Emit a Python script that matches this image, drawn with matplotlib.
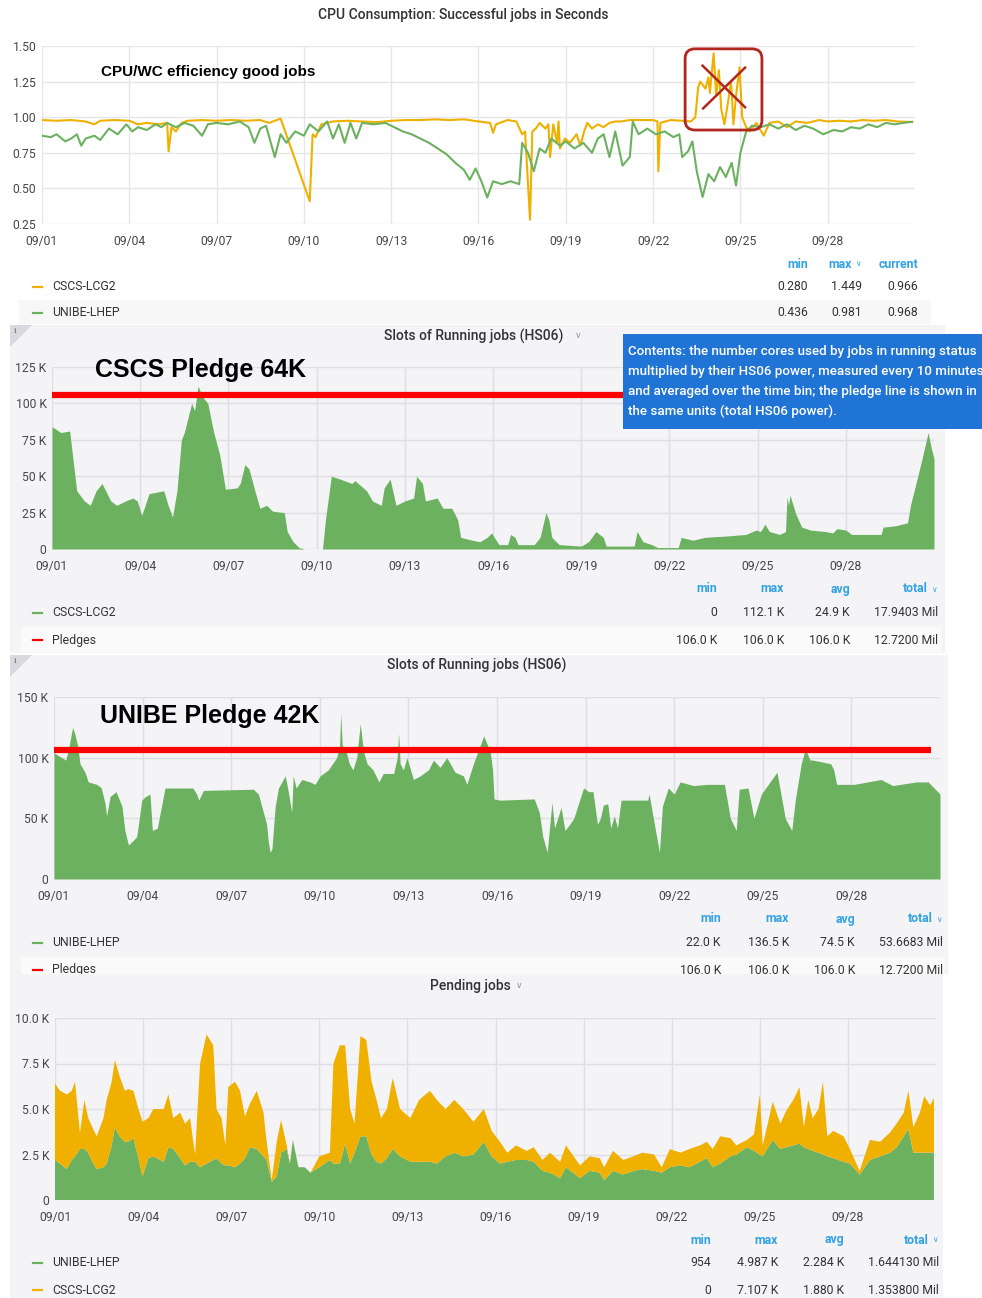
import matplotlib.pyplot as plt
import matplotlib.patches as mpatches
from matplotlib.lines import Line2D

plt.rcParams['font.family'] = ['Roboto', 'DejaVu Sans']

W, H = 982, 1298

# x axis: days after 09/01 00:00
tick_days = [0, 3, 6, 9, 12, 15, 18, 21, 24, 27]
tick_labels = ['09/01', '09/04', '09/07', '09/10', '09/13', '09/16', '09/19', '09/22', '09/25', '09/28']

# --- panel 1: CPU/WC efficiency
cscs_eff_days = [0, 0.5, 1.0, 1.5, 1.8, 2.0, 2.5, 3.0, 3.3, 3.6, 4.0, 4.3, 4.35, 4.45, 4.6, 4.8,
                 5.0, 5.5, 6.0, 6.5, 7.0, 7.5, 7.8, 8.2, 9.2, 9.3, 9.4, 9.6, 10.0, 10.5, 11.0,
                 11.5, 12.0, 12.5, 13.0, 13.5, 14.0, 14.5, 15.0, 15.4, 15.5, 15.6, 16.0, 16.3,
                 16.5, 16.6, 16.77, 16.85, 16.97, 17.1, 17.3, 17.4, 17.46, 17.57, 17.7, 17.75,
                 17.8, 17.97, 18.14, 18.37, 18.5, 18.63, 18.74, 18.9, 19.1, 19.3, 19.5, 19.7,
                 19.9, 20.2, 20.5, 21.0, 21.15, 21.18, 21.25, 21.6, 22.0, 22.3, 22.45, 22.55,
                 22.62, 22.8, 22.9, 22.95, 23.08, 23.17, 23.26, 23.34, 23.45, 23.57, 23.68,
                 23.76, 23.85, 23.97, 24.06, 24.2, 24.32, 24.55, 24.8, 25.0, 25.3, 25.6, 25.9,
                 26.3, 26.7, 27.0, 27.4, 27.8, 28.2, 28.6, 29.0, 29.4, 29.9]
cscs_eff = [0.98, 0.975, 0.98, 0.97, 0.95, 0.975, 0.98, 0.975, 0.95, 0.96, 0.95, 0.96, 0.76, 0.93,
            0.90, 0.96, 0.975, 0.98, 0.975, 0.98, 0.975, 0.98, 0.96, 0.99, 0.41, 0.88, 0.86, 0.95,
            0.97, 0.975, 0.97, 0.965, 0.975, 0.98, 0.98, 0.985, 0.98, 0.985, 0.97, 0.96, 0.89,
            0.95, 0.98, 0.97, 0.88, 0.90, 0.28, 0.90, 0.92, 0.96, 0.92, 0.95, 0.72, 0.95, 0.82,
            0.97, 0.78, 0.85, 0.82, 0.88, 0.80, 0.90, 0.96, 0.92, 0.95, 0.93, 0.96, 0.97, 0.97,
            0.98, 0.98, 0.98, 0.97, 0.62, 0.96, 0.98, 0.975, 0.97, 1.0, 1.21, 1.25, 1.20, 1.28,
            1.17, 1.449, 1.15, 1.33, 1.06, 0.95, 1.10, 1.25, 0.95, 1.15, 1.35, 1.0, 0.93, 0.90,
            0.96, 0.87, 0.96, 0.97, 0.93, 0.97, 0.96, 0.98, 0.97, 0.975, 0.97, 0.98, 0.975, 0.98,
            0.97, 0.966]

unibe_eff_days = [0, 0.3, 0.5, 0.8, 1.0, 1.2, 1.35, 1.5, 1.8, 2.0, 2.3, 2.6, 2.9, 3.1, 3.3, 3.6,
                  3.9, 4.1, 4.3, 4.6, 4.9, 5.2, 5.5, 5.7, 6.0, 6.4, 6.8, 7.1, 7.3, 7.5, 7.7, 8.0,
                  8.2, 8.4, 8.7, 9.0, 9.2, 9.5, 9.8, 10.0, 10.2, 10.4, 10.6, 10.8, 11.0, 11.4,
                  11.8, 12.1, 12.4, 12.7, 13.0, 13.3, 13.6, 13.9, 14.2, 14.5, 14.7, 14.9, 15.1,
                  15.3, 15.5, 15.8, 16.1, 16.4, 16.5, 16.7, 16.9, 17.1, 17.3, 17.5, 17.8, 18.0,
                  18.3, 18.6, 18.9, 19.1, 19.3, 19.5, 19.7, 19.95, 20.2, 20.3, 20.5, 20.8, 21.1,
                  21.4, 21.7, 21.9, 22.0, 22.2, 22.35, 22.5, 22.7, 22.9, 23.1, 23.3, 23.5, 23.7,
                  23.85, 24.0, 24.2, 24.4, 24.7, 25.0, 25.3, 25.6, 25.9, 26.2, 26.5, 26.85, 27.2,
                  27.5, 27.8, 28.1, 28.4, 28.7, 29.0, 29.3, 29.6, 29.9]
unibe_eff = [0.87, 0.86, 0.88, 0.83, 0.85, 0.88, 0.80, 0.85, 0.87, 0.84, 0.92, 0.88, 0.95, 0.90,
             0.93, 0.91, 0.95, 0.93, 0.96, 0.93, 0.96, 0.94, 0.87, 0.95, 0.96, 0.95, 0.97, 0.93,
             0.82, 0.92, 0.94, 0.72, 0.88, 0.82, 0.90, 0.87, 0.95, 0.90, 0.97, 0.85, 0.95, 0.82,
             0.96, 0.85, 0.96, 0.95, 0.96, 0.93, 0.90, 0.88, 0.85, 0.82, 0.78, 0.74, 0.68, 0.63,
             0.56, 0.64, 0.55, 0.436, 0.55, 0.53, 0.55, 0.53, 0.82, 0.75, 0.62, 0.78, 0.75, 0.85,
             0.80, 0.83, 0.78, 0.82, 0.75, 0.85, 0.88, 0.72, 0.90, 0.66, 0.72, 0.97, 0.88, 0.92,
             0.88, 0.90, 0.86, 0.88, 0.72, 0.76, 0.83, 0.62, 0.44, 0.60, 0.55, 0.65, 0.58, 0.68,
             0.52, 0.75, 0.90, 0.94, 0.93, 0.95, 0.92, 0.95, 0.91, 0.94, 0.92, 0.88, 0.91, 0.90,
             0.93, 0.92, 0.95, 0.93, 0.96, 0.95, 0.96, 0.968]

# --- panel 2: CSCS running slots (thousands HS06)
cscs_run_days = [0, 0.3, 0.6, 0.84, 1.1, 1.3, 1.5, 1.7, 2.0, 2.2, 2.5, 2.75, 2.9, 3.05, 3.3, 3.8,
                 3.95, 4.1, 4.25, 4.4, 4.5, 4.75, 4.85, 4.97, 5.1, 5.3, 5.5, 5.7, 5.9, 6.3, 6.4,
                 6.56, 6.7, 6.9, 7.07, 7.3, 7.5, 7.9, 8.0, 8.2, 8.4, 8.6, 9.2, 9.3, 9.5, 9.8,
                 10.2, 10.3, 10.7, 10.9, 11.2, 11.3, 11.5, 11.7, 12.0, 12.3, 12.4, 12.6, 12.7,
                 13.1, 13.3, 13.6, 13.8, 13.9, 14.3, 14.55, 14.8, 14.95, 15.2, 15.5, 15.6, 15.75,
                 15.85, 16.4, 16.6, 16.8, 16.9, 17.0, 17.25, 18.0, 18.25, 18.5, 18.75, 18.85,
                 19.8, 19.9, 20.1, 20.4, 20.6, 21.3, 21.4, 21.8, 22.2, 23.0, 23.6, 23.95, 24.1,
                 24.25, 24.4, 24.75, 24.95, 25.0, 25.05, 25.1, 25.3, 25.5, 25.8, 26.3, 26.55,
                 26.7, 27.0, 27.2, 28.2, 28.27, 28.7, 29.1, 29.2, 29.57, 29.8, 29.9, 30.0]
cscs_run_k = [84, 80, 81, 40, 33, 30, 40, 45, 33, 30, 33, 35, 33, 23, 38, 40, 30, 22, 40, 75, 80,
              100, 95, 112, 105, 100, 80, 65, 41, 42, 45, 58, 55, 40, 28, 30, 26, 25, 12, 5, 1, 0,
              0, 20, 50, 48, 45, 47, 40, 33, 30, 42, 48, 30, 33, 35, 50, 45, 33, 35, 28, 28, 20,
              8, 6, 5, 8, 11, 3, 3, 10, 8, 3, 3, 8, 25, 20, 8, 3, 2, 5, 12, 8, 2, 2, 12, 5, 3, 1,
              1, 8, 6, 8, 9, 10, 13, 12, 17, 12, 10, 12, 36, 30, 37, 24, 15, 13, 12, 11, 14, 13,
              10, 10, 15, 16, 18, 30, 60, 80, 70, 62]
pledge_days = [0, 29.7]
cscs_pledge_k = [106, 106]

# --- panel 3: UNIBE running slots (thousands HS06)
unibe_run_days = [0, 0.4, 0.5, 0.63, 0.7, 0.8, 0.88, 1.05, 1.16, 1.45, 1.56, 1.6, 1.73, 1.78, 1.9,
                  2.1, 2.3, 2.4, 2.52, 2.69, 2.8, 2.86, 2.97, 3.1, 3.25, 3.33, 3.5, 3.6, 3.76, 4.7,
                  4.83, 4.9, 5.06, 6.75, 6.92, 7.09, 7.2, 7.26, 7.32, 7.38, 7.49, 7.6, 7.83, 7.91,
                  8.05, 8.1, 8.2, 8.39, 8.67, 8.84, 9.01, 9.29, 9.57, 9.67, 9.71, 9.76, 9.86, 10.0,
                  10.12, 10.25, 10.37, 10.48, 10.6, 10.8, 11.0, 11.15, 11.5, 11.62, 11.67, 11.72,
                  11.83, 11.95, 12.17, 12.4, 12.68, 12.85, 13.07, 13.3, 13.58, 13.86, 13.98, 14.2,
                  14.43, 14.55, 14.77, 14.85, 14.9, 15.1, 16.26, 16.43, 16.55, 16.7, 16.86, 16.95,
                  17.17, 17.3, 17.46, 17.6, 17.93, 18.1, 18.25, 18.4, 18.5, 18.6, 18.75, 18.85,
                  18.97, 19.08, 19.2, 20.1, 20.15, 20.33, 20.5, 20.6, 20.8, 21.0, 21.2, 21.66,
                  22.1, 22.7, 22.9, 23.1, 23.2, 23.5, 23.7, 23.95, 24.48, 24.76, 24.98, 25.1, 25.3,
                  25.44, 25.6, 25.7, 26.3, 26.4, 26.5, 27.1, 28.0, 28.4, 29.2, 29.6, 29.8, 30.0]
unibe_run_k = [104, 98, 108, 125, 120, 110, 95, 88, 80, 78, 76, 75, 62, 52, 68, 72, 60, 40, 28,
               32, 35, 45, 65, 68, 70, 40, 42, 55, 75, 75, 70, 65, 73, 74, 70, 55, 45, 30, 22, 25,
               60, 75, 85, 75, 55, 85, 75, 82, 80, 78, 85, 90, 100, 110, 136.5, 110, 108, 95, 90,
               100, 128, 105, 95, 90, 80, 87, 87, 100, 120, 95, 90, 100, 82, 85, 90, 98, 92, 100,
               88, 85, 78, 95, 110, 118, 105, 90, 66, 65, 66, 55, 35, 22, 63, 42, 59, 40, 45, 50,
               75, 72, 72, 45, 50, 61, 62, 42, 52, 42, 65, 65, 70, 45, 22, 60, 75, 70, 80, 77, 78,
               78, 50, 40, 74, 75, 50, 70, 88, 50, 40, 65, 95, 107, 98, 98, 95, 90, 78, 78, 82, 77,
               80, 80, 75, 70]
unibe_pledge_k = [106, 106]

# --- panel 4: pending jobs (thousands), stacked
pend_days = [0, 0.17, 0.4, 0.57, 0.68, 0.85, 1.0, 1.13, 1.3, 1.42, 1.65, 1.76, 1.93, 2.04, 2.2,
             2.38, 2.5, 2.67, 2.84, 2.98, 3.18, 3.35, 3.7, 3.86, 4.03, 4.26, 4.43, 4.6, 4.77,
             4.94, 5.16, 5.39, 5.5, 5.67, 5.8, 5.9, 6.13, 6.3, 6.47, 6.64, 6.87, 7.1, 7.2, 7.38,
             7.55, 7.7, 7.89, 8.0, 8.1, 8.29, 8.5, 8.7, 9.0, 9.36, 9.48, 9.7, 9.88, 10.05, 10.2,
             10.4, 10.6, 10.78, 10.95, 11.1, 11.3, 11.5, 11.75, 12.1, 12.4, 12.77, 13.0, 13.3,
             13.6, 13.9, 14.25, 14.6, 14.87, 15.15, 15.4, 15.7, 16.06, 16.3, 16.6, 16.86, 17.2,
             17.4, 17.88, 18.2, 18.55, 18.7, 19.0, 19.35, 19.7, 20.0, 20.4, 20.66, 20.94, 21.3,
             21.6, 21.96, 22.2, 22.4, 22.65, 23.0, 23.2, 23.56, 23.8, 24.0, 24.1, 24.44, 24.7,
             24.9, 25.14, 25.35, 25.5, 25.65, 25.8, 26.0, 26.15, 26.3, 26.5, 26.85, 27.07, 27.4,
             27.75, 28.1, 28.43, 28.66, 28.9, 29.06, 29.23, 29.45, 29.6, 29.8, 29.93]
unibe_pend_k = [2.2, 2.0, 1.7, 2.2, 2.4, 2.8, 2.8, 2.6, 2.0, 1.7, 1.8, 2.0, 3.0, 4.0, 3.5, 3.2,
                3.2, 3.4, 2.3, 1.3, 2.3, 2.4, 2.1, 2.9, 2.8, 2.3, 1.9, 2.1, 2.1, 1.8, 2.0, 2.2,
                2.3, 2.0, 1.9, 1.9, 1.8, 2.0, 2.3, 2.9, 2.8, 2.4, 2.2, 1.0, 1.3, 2.6, 2.8, 2.0,
                3.3, 1.8, 1.8, 1.5, 1.8, 2.2, 2.0, 2.0, 3.1, 2.0, 2.6, 3.5, 3.5, 2.5, 2.1, 2.0,
                2.3, 2.8, 2.4, 2.1, 2.1, 2.1, 2.0, 2.4, 2.6, 2.4, 2.5, 3.2, 2.4, 2.0, 2.1, 2.2,
                2.2, 2.1, 1.6, 1.5, 1.2, 1.8, 1.2, 1.6, 1.5, 1.1, 1.6, 1.4, 1.6, 1.7, 1.6, 1.5,
                1.8, 1.9, 1.8, 2.1, 2.3, 1.8, 2.0, 2.4, 2.5, 2.9, 2.7, 2.5, 2.4, 3.3, 2.8, 2.9,
                3.0, 3.1, 2.9, 2.8, 2.7, 2.6, 2.5, 2.4, 2.3, 2.1, 2.0, 1.4, 2.2, 2.4, 2.6, 2.9,
                3.5, 3.9, 2.6, 2.6, 2.6, 2.6, 2.6]
cscs_pend_k = [4.2, 4.0, 4.1, 3.8, 4.1, 0.9, 2.7, 1.9, 1.9, 1.8, 2.7, 3.5, 3.5, 3.7, 3.3, 2.8,
               2.9, 2.6, 2.7, 3.0, 2.2, 2.6, 2.9, 2.9, 1.7, 2.5, 2.3, 2.4, 0.4, 5.7, 7.1, 6.3,
               2.7, 2.5, 1.1, 4.3, 4.7, 4.0, 2.3, 2.4, 3.2, 2.4, 1.1, 0.1, 1.9, 1.8, 0.2, 0.0,
               0.0, 0.0, 0.0, 0.0, 0.6, 0.4, 5.5, 6.5, 5.4, 3.0, 1.6, 5.5, 5.3, 4.0, 3.4, 2.5,
               2.7, 3.9, 2.6, 2.4, 3.4, 3.9, 3.5, 2.6, 2.9, 2.6, 1.8, 1.8, 1.4, 1.2, 0.5, 0.8,
               0.5, 0.8, 0.6, 1.1, 0.9, 1.2, 0.7, 0.8, 0.8, 0.7, 1.1, 0.8, 0.8, 0.9, 0.9, 0.3,
               1.0, 0.7, 1.0, 0.9, 0.9, 1.0, 1.5, 1.0, 0.5, 0.4, 0.9, 3.3, 0.6, 2.1, 1.4, 2.0,
               2.5, 3.1, 1.1, 2.7, 1.8, 2.4, 4.0, 1.1, 1.5, 1.4, 0.8, 0.2, 1.1, 0.8, 1.1, 1.3,
               1.3, 2.1, 1.4, 2.2, 3.1, 2.6, 3.0]

ORANGE = '#f0b000'
GREEN = '#6cb15f'
RED = '#ff0000'
BLUE = '#33a2e5'
PANEL = '#f4f4f7'


def fx(x):
    return x / W


def fy(y):
    return 1 - y / H


def rect(x0, y0, x1, y1, color, z):
    fig.add_artist(mpatches.Rectangle((fx(x0), fy(y1)), (x1 - x0) / W, (y1 - y0) / H,
                                      transform=fig.transFigure, color=color, lw=0, zorder=z))


def add_ax(left, top, right, bottom):
    return fig.add_axes([fx(left), fy(bottom), (right - left) / W, (bottom - top) / H])


def style(ax, ylim, yticks, ylabels, gridc):
    ax.set_facecolor('none')
    ax.set_xlim(0, 30)
    ax.set_ylim(*ylim)
    ax.set_xticks(tick_days, tick_labels)
    ax.set_yticks(yticks, ylabels)
    ax.grid(True, color=gridc, lw=1)
    ax.set_axisbelow(True)
    for s in ax.spines.values():
        s.set_visible(False)
    ax.tick_params(length=0, labelsize=8.7, labelcolor='#464646')
    ax.tick_params(axis='x', pad=8)
    ax.tick_params(axis='y', pad=4)


def info_corner(x, y):
    fig.add_artist(mpatches.Polygon([(fx(x), fy(y)), (fx(x + 22), fy(y)), (fx(x), fy(y + 22))],
                                    closed=True, transform=fig.transFigure, color='#d8d9df',
                                    lw=0, zorder=-6))
    fig.text(fx(x + 4), fy(y + 6), 'i', fontsize=6, color='#666', family='DejaVu Serif',
             va='center', zorder=-5)


def title(x, y, s, chevron=False):
    t = fig.text(fx(x), fy(y), s, ha='center', va='center', fontsize=10, color='#333',
                 weight='medium')
    if chevron:
        fig.text(fx(x) + len(s) * 0.00355 + 0.007, fy(y), '\u2228', ha='center', va='center',
                 fontsize=6.5, color='#999', family='DejaVu Sans')
    return t


def legend(yh, cols, heads, chev, rows, band, bandc, z=-5):
    rect(band[0], band[1], band[2], band[3], bandc, -8)
    for c, h in zip(cols, heads):
        off = 10 if h in chev else 0
        fig.text(fx(c - off), fy(yh), h, ha='right', va='center', fontsize=8.8, color=BLUE,
                 weight='bold', zorder=z)
        if off:
            fig.text(fx(c - 1), fy(yh), '\u2228', ha='right', va='center', fontsize=5.5,
                     color=BLUE, family='DejaVu Sans', zorder=z)
    for ry, color, name, vals in rows:
        fig.add_artist(Line2D([fx(33), fx(42)], [fy(ry), fy(ry)], color=color, lw=1.6,
                              transform=fig.transFigure, zorder=z))
        fig.text(fx(52), fy(ry), name, ha='left', va='center', fontsize=8.8, color='#333',
                 zorder=z)
        for c, v in zip(cols, vals):
            fig.text(fx(c), fy(ry), v, ha='right', va='center', fontsize=8.8, color='#333',
                     zorder=z)


fig = plt.figure(figsize=(W / 100, H / 100), dpi=100)
fig.patch.set_facecolor('white')

# ---------------- panel 1
ax1 = add_ax(42, 46, 915, 224)
ax1.plot(cscs_eff_days, cscs_eff, color=ORANGE, lw=1.5)
ax1.plot(unibe_eff_days, unibe_eff, color=GREEN, lw=1.5)
style(ax1, (0.25, 1.5), [0.25, 0.5, 0.75, 1.0, 1.25, 1.5],
      ['0.25', '0.50', '0.75', '1.00', '1.25', '1.50'], '#e6e6e6')
box = mpatches.FancyBboxPatch((22.1, 0.91), 2.64, 0.57,
                              boxstyle='round,pad=0,rounding_size=0.34', mutation_aspect=0.2,
                              fc='none', ec='#b3261e', lw=2, clip_on=False, zorder=5)
ax1.add_patch(box)
ax1.plot([22.70, 24.16], [1.362, 1.07], color='#b3261e', lw=1.8, zorder=5)
ax1.plot([24.16, 22.72], [1.348, 1.062], color='#b3261e', lw=1.8, zorder=5)
title(463, 15, 'CPU Consumption: Successful jobs in Seconds')
fig.text(fx(101), fy(72), 'CPU/WC efficiency good jobs', fontsize=11, weight='bold',
         family='Liberation Sans', va='center', color='black')
legend(264, [808, 862, 918], ['min', 'max', 'current'], ['max'],
       [(287, ORANGE, 'CSCS-LCG2', ['0.280', '1.449', '0.966']),
        (313, GREEN, 'UNIBE-LHEP', ['0.436', '0.981', '0.968'])],
       (19, 300, 931, 324), '#f7f7f7')

# ---------------- panel 2
rect(10, 325, 945, 653, PANEL, -10)
info_corner(10, 325)
ax2 = add_ax(52, 367, 934, 549)
ax2.fill_between(cscs_run_days, cscs_run_k, color=GREEN, lw=0)
ax2.plot(pledge_days, cscs_pledge_k, color=RED, lw=4.5, solid_capstyle='butt')
style(ax2, (0, 125), [0, 25, 50, 75, 100, 125],
      ['0', '25 K', '50 K', '75 K', '100 K', '125 K'], '#dedee4')
title(474, 336, 'Slots of Running jobs (HS06)', chevron=True)
fig.text(fx(95), fy(370), 'CSCS Pledge 64K', fontsize=18, weight='bold',
         family='Liberation Sans', va='center', color='black')
rect(623, 334, 982, 429, '#1f74d6', 2)
box_lines = ['Contents: the number cores used by jobs in running status',
             'multiplied by their HS06 power, measured every 10 minutes',
             'and averaged over the time bin; the pledge line is shown in',
             'the same units (total HS06 power).']
for i, s in enumerate(box_lines):
    fig.text(fx(628), fy(352 + i * 19.7), s, fontsize=9.6, color='white', weight='medium',
             va='center', zorder=3)
legend(589, [717, 784, 850, 938], ['min', 'max', 'avg', 'total'], ['total'],
       [(613, GREEN, 'CSCS-LCG2', ['0', '112.1 K', '24.9 K', '17.9403 Mil']),
        (640, RED, 'Pledges', ['106.0 K', '106.0 K', '106.0 K', '12.7200 Mil'])],
       (21, 627, 942, 652), '#fafafb')

# ---------------- panel 3
rect(10, 655, 948, 975, PANEL, -10)
info_corner(10, 655)
ax3 = add_ax(54, 697, 940, 879)
ax3.fill_between(unibe_run_days, unibe_run_k, color=GREEN, lw=0)
ax3.plot(pledge_days, unibe_pledge_k, color=RED, lw=4.5, solid_capstyle='butt')
style(ax3, (0, 150), [0, 50, 100, 150], ['0', '50 K', '100 K', '150 K'], '#dedee4')
title(477, 665, 'Slots of Running jobs (HS06)')
fig.text(fx(100), fy(716), 'UNIBE Pledge 42K', fontsize=18, weight='bold',
         family='Liberation Sans', va='center', color='black')
legend(919, [721, 789, 855, 943], ['min', 'max', 'avg', 'total'], ['total'],
       [(943, GREEN, 'UNIBE-LHEP', ['22.0 K', '136.5 K', '74.5 K', '53.6683 Mil']),
        (970, RED, 'Pledges', ['106.0 K', '106.0 K', '106.0 K', '12.7200 Mil'])],
       (21, 957, 945, 975), '#fafafb')

# ---------------- panel 4 (covers the cut-off last row above)
rect(10, 974, 943, 1298, PANEL, -1)
info_corner(10, 975)
ax4 = add_ax(55, 1018, 936, 1200)
ax4.stackplot(pend_days, unibe_pend_k, cscs_pend_k, colors=[GREEN, ORANGE], lw=0)
style(ax4, (0, 10), [0, 2.5, 5, 7.5, 10], ['0', '2.5 K', '5.0 K', '7.5 K', '10.0 K'], '#dedee4')
title(470, 986, 'Pending jobs', chevron=True)
legend(1240, [711, 778, 844, 939], ['min', 'max', 'avg', 'total'], ['total'],
       [(1263, GREEN, 'UNIBE-LHEP', ['954', '4.987 K', '2.284 K', '1.644130 Mil']),
        (1290, ORANGE, 'CSCS-LCG2', ['0', '7.107 K', '1.880 K', '1.353800 Mil'])],
       (21, 1277, 940, 1298), '#fafafb', z=0)

fig.savefig('out.png', dpi=100)
